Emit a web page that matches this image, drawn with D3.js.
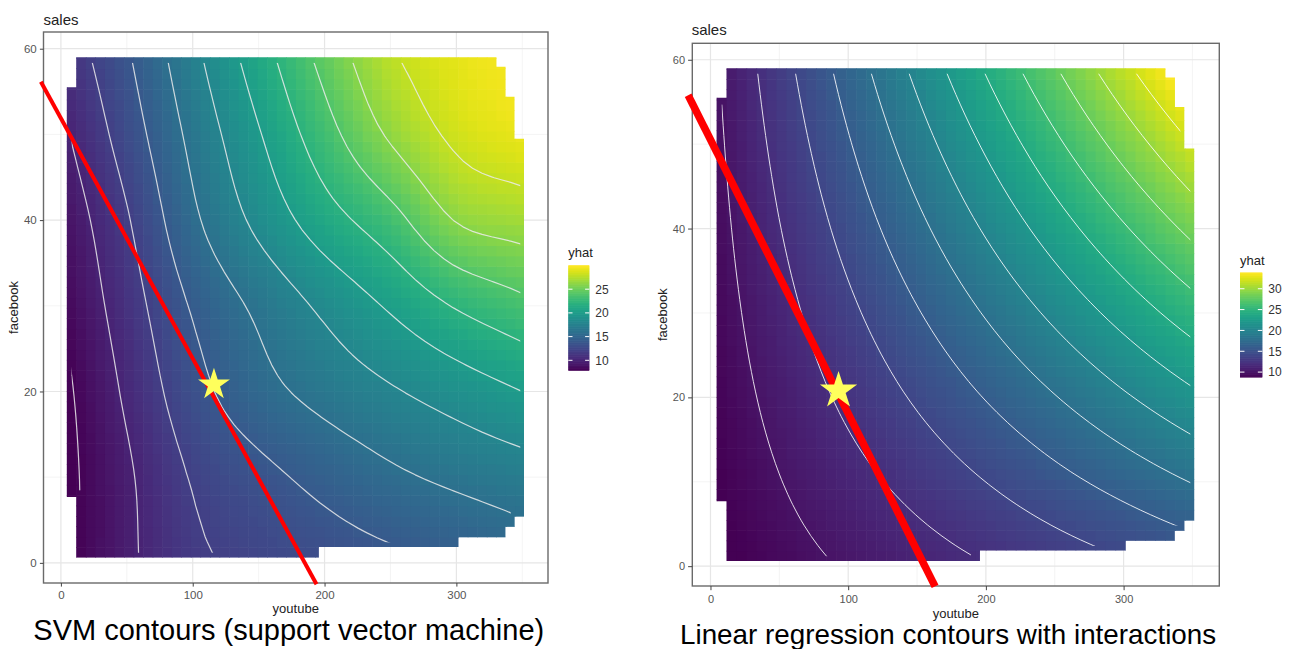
<!DOCTYPE html>
<html><head><meta charset="utf-8">
<script src="https://cdn.jsdelivr.net/npm/d3@7"></script>
<style>
body{margin:0;background:#fff;}
svg{display:block;}
text{font-family:"Liberation Sans",Arial,Helvetica,sans-serif;}
</style>
</head><body>
<svg id="chart" width="1293" height="649"></svg>
<script>
// ------------------------------------------------------------------
// DATA
// ------------------------------------------------------------------
const ytKnots = [0, 50, 100, 150, 200, 250, 300, 350];      // youtube
const fbKnots = [0, 10, 20, 30, 40, 50, 60];                 // facebook (rows)

// SVM predicted sales (rows = facebook 0..60, cols = youtube 0..350)
const svmYhat = [
  [ 7.40,  9.60, 11.60, 12.36, 12.95, 13.53, 14.10, 14.90],
  [ 7.34,  9.70, 12.15, 13.44, 14.59, 15.62, 16.41, 17.08],
  [ 7.45, 10.32, 13.24, 15.28, 16.67, 17.79, 18.89, 20.00],
  [ 8.00, 11.02, 14.20, 16.42, 18.42, 20.26, 22.16, 23.50],
  [ 8.60, 11.81, 15.60, 18.51, 21.10, 23.26, 26.10, 26.90],
  [ 9.56, 12.92, 16.54, 19.85, 23.20, 26.28, 28.40, 29.30],
  [10.70, 13.85, 17.55, 21.20, 24.80, 27.90, 29.20, 29.90]
];
// Linear regression (with interaction) predicted sales
const lmYhat = [
  [ 8.39,  9.28, 10.16, 11.05, 11.93, 12.82, 13.70, 14.59],
  [ 8.58,  9.94, 11.30, 12.65, 14.01, 15.37, 16.72, 18.08],
  [ 8.77, 10.60, 12.43, 14.26, 16.09, 17.91, 19.74, 21.57],
  [ 8.96, 11.26, 13.56, 15.86, 18.16, 20.46, 22.76, 25.06],
  [ 9.15, 11.93, 14.70, 17.47, 20.24, 23.01, 25.78, 28.55],
  [ 9.34, 12.59, 15.83, 19.07, 22.31, 25.56, 28.80, 32.04],
  [ 9.53, 13.25, 16.96, 20.68, 24.39, 28.10, 31.82, 35.53]
];

const svmRange = [7.85, 30.0];
const lmRange  = [8.75, 33.85];
const svmLevels = [8, 10, 12, 14, 16, 18, 20, 22, 24, 26, 28];
const lmLevels  = [10, 12, 14, 16, 18, 20, 22, 24, 26, 28, 30, 32];
const svmLegendBreaks = [10, 15, 20, 25];
const lmLegendBreaks  = [10, 15, 20, 25, 30];

const xTicks = [0, 100, 200, 300];
const xMinor = [50, 150, 250, 350];
const yTicks = [0, 20, 40, 60];
const yMinor = [10, 30, 50];

// outline of the prediction grid (youtube, facebook)
const regionOutline = [
  [11.7, 59.0], [330.3, 59.0], [330.3, 57.9], [337.3, 57.9], [337.3, 54.4],
  [344.1, 54.4], [344.1, 49.5], [351.3, 49.5], [351.3, 5.4], [344.2, 5.4],
  [344.2, 4.2], [337.2, 4.2], [337.2, 3.0], [301.5, 3.0], [301.5, 1.85],
  [195.7, 1.85], [195.7, 0.62], [11.7, 0.62], [11.7, 7.7], [4.5, 7.7],
  [4.5, 55.5], [11.7, 55.5]
];

// budget lines and optimum stars (youtube, facebook)
const svmBudgetLine = [[-15.2, 56.15], [193.9, -2.49]];
const lmBudgetLine  = [[-16.2, 55.8], [163.1, -2.39]];
const svmOptimum = [116.1, 20.8];
const lmOptimum  = [93.0, 20.8];

// ------------------------------------------------------------------
// RENDERING
// ------------------------------------------------------------------
const svg = d3.select("#chart");
const defs = svg.append("defs");
const FONT = '"Liberation Sans",Arial,Helvetica,sans-serif';
const xDomain = [-13.2, 369.5];
const yDomain = [-2.35, 61.95];

// display raster (50 x 50 tiles like the original prediction grid)
const NT = 50;
const tileYt0 = 0.84, tileYtStep = 7.242;
const tileFb0 = 0, tileFbStep = 1.2147;
const tileYt = d3.range(NT).map(k => tileYt0 + tileYtStep * k);
const tileFb = d3.range(NT).map(j => tileFb0 + tileFbStep * j);

function gridValue(grid, i, j) {
  const nx = grid[0].length, ny = grid.length;
  if (i < 0) return 2 * gridValue(grid, 0, j) - gridValue(grid, 1, j);
  if (i > nx - 1) return 2 * gridValue(grid, nx - 1, j) - gridValue(grid, nx - 2, j);
  if (j < 0) return 2 * gridValue(grid, i, 0) - gridValue(grid, i, 1);
  if (j > ny - 1) return 2 * gridValue(grid, i, ny - 1) - gridValue(grid, i, ny - 2);
  return grid[j][i];
}
function cr(p0, p1, p2, p3, t) {
  return 0.5 * (2 * p1 + (-p0 + p2) * t + (2 * p0 - 5 * p1 + 4 * p2 - p3) * t * t + (-p0 + 3 * p1 - 3 * p2 + p3) * t * t * t);
}
function sampleSurface(grid, yt, fb) {
  const gx = (yt - ytKnots[0]) / (ytKnots[1] - ytKnots[0]);
  const gy = (fb - fbKnots[0]) / (fbKnots[1] - fbKnots[0]);
  const nx = ytKnots.length, ny = fbKnots.length;
  const ix = Math.max(0, Math.min(nx - 2, Math.floor(gx)));
  const iy = Math.max(0, Math.min(ny - 2, Math.floor(gy)));
  const tx = gx - ix, ty = gy - iy;
  const rows = [];
  for (let dj = -1; dj <= 2; dj++) {
    const j = iy + dj;
    rows.push(cr(gridValue(grid, ix - 1, j), gridValue(grid, ix, j), gridValue(grid, ix + 1, j), gridValue(grid, ix + 2, j), tx));
  }
  return cr(rows[0], rows[1], rows[2], rows[3], ty);
}

function drawPanel(cfg) {
  const g = svg.append("g");
  const x = d3.scaleLinear().domain(xDomain).range([cfg.left, cfg.right]);
  const y = d3.scaleLinear().domain(yDomain).range([cfg.bottom, cfg.top]);
  const color = d3.scaleSequential(d3.interpolateViridis).domain(cfg.range).clamp(true);

  g.append("rect").attr("x", cfg.left).attr("y", cfg.top)
    .attr("width", cfg.right - cfg.left).attr("height", cfg.bottom - cfg.top).attr("fill", "#fff");
  const grid = g.append("g");
  grid.selectAll(".gxm").data(xMinor).join("line")
    .attr("x1", d => x(d)).attr("x2", d => x(d)).attr("y1", cfg.top).attr("y2", cfg.bottom)
    .attr("stroke", "#efefef").attr("stroke-width", 0.7);
  grid.selectAll(".gym").data(yMinor).join("line")
    .attr("y1", d => y(d)).attr("y2", d => y(d)).attr("x1", cfg.left).attr("x2", cfg.right)
    .attr("stroke", "#efefef").attr("stroke-width", 0.7);
  grid.selectAll(".gx").data(xTicks).join("line")
    .attr("x1", d => x(d)).attr("x2", d => x(d)).attr("y1", cfg.top).attr("y2", cfg.bottom)
    .attr("stroke", "#e6e6e6").attr("stroke-width", 1.2);
  grid.selectAll(".gy").data(yTicks).join("line")
    .attr("y1", d => y(d)).attr("y2", d => y(d)).attr("x1", cfg.left).attr("x2", cfg.right)
    .attr("stroke", "#e6e6e6").attr("stroke-width", 1.2);

  const maskId = cfg.id + "-mask";
  defs.append("clipPath").attr("id", maskId).append("path")
    .attr("d", d3.line()(regionOutline.map(p => [x(p[0]), y(p[1])])) + "Z");

  const vals = new Array(NT * NT);
  const cells = [];
  for (let j = 0; j < NT; j++) {
    for (let k = 0; k < NT; k++) {
      const v = sampleSurface(cfg.grid, tileYt[k], tileFb[j]);
      vals[j * NT + k] = v;
      cells.push({ yt: tileYt[k], fb: tileFb[j], v });
    }
  }
  const hw = tileYtStep / 2, hh = tileFbStep / 2;
  g.append("g").attr("clip-path", `url(#${maskId})`)
    .selectAll("rect").data(cells).join("rect")
    .attr("x", d => x(d.yt - hw))
    .attr("y", d => y(d.fb + hh))
    .attr("width", d => x(d.yt + hw) - x(d.yt - hw) + 0.6)
    .attr("height", d => y(d.fb - hh) - y(d.fb + hh) + 0.6)
    .attr("fill", d => color(d.v));

  const lineClipId = cfg.id + "-lclip";
  const lc = defs.append("clipPath").attr("id", lineClipId);
  const inside = (k, j) => d3.polygonContains(regionOutline, [tileYt[k], tileFb[j]]);
  for (let j = 0; j < NT - 1; j++) {
    let start = -1;
    for (let k = 0; k <= NT - 1; k++) {
      const ok = k < NT - 1 && inside(k, j) && inside(k + 1, j) && inside(k, j + 1) && inside(k + 1, j + 1);
      if (ok && start < 0) start = k;
      if (!ok && start >= 0) {
        const x0 = x(tileYt[start]), x1 = x(tileYt[k]);
        const y0 = y(tileFb[j + 1]), y1 = y(tileFb[j]);
        lc.append("rect").attr("x", x0).attr("y", y0 - 0.3).attr("width", x1 - x0).attr("height", y1 - y0 + 0.6);
        start = -1;
      }
    }
  }

  const contours = d3.contours().size([NT, NT]).thresholds(cfg.levels)(vals);
  const toData = p => [x(tileYt0 + (p[0] - 0.5) * tileYtStep), y(tileFb0 + (p[1] - 0.5) * tileFbStep)];
  const paths = [];
  contours.forEach(c => c.coordinates.forEach(poly => poly.forEach(ring => {
    paths.push(d3.line()(ring.map(toData)));
  })));
  g.append("g").attr("clip-path", `url(#${lineClipId})`)
    .selectAll("path").data(paths).join("path")
    .attr("d", d => d).attr("fill", "none")
    .attr("stroke", cfg.contourColor).attr("stroke-width", cfg.contourWidth)
    .attr("stroke-linejoin", "round");

  g.append("rect").attr("x", cfg.left).attr("y", cfg.top)
    .attr("width", cfg.right - cfg.left).attr("height", cfg.bottom - cfg.top)
    .attr("fill", "none").attr("stroke", "#6a6a6a").attr("stroke-width", 1.4);

  const ax = g.append("g").attr("transform", `translate(0,${cfg.bottom})`)
    .call(d3.axisBottom(x).tickValues(xTicks).tickSize(cfg.tickLen).tickPadding(cfg.xPad));
  const ay = g.append("g").attr("transform", `translate(${cfg.left},0)`)
    .call(d3.axisLeft(y).tickValues(yTicks).tickSize(cfg.tickLen).tickPadding(cfg.yPad));
  [ax, ay].forEach(a => {
    a.select(".domain").remove();
    a.selectAll("line").attr("stroke", "#444").attr("stroke-width", 1);
    a.selectAll("text").attr("fill", "#555").style("font-size", cfg.tickFont + "px").style("font-family", FONT);
  });

  g.append("text").attr("x", cfg.titleX).attr("y", cfg.titleY).text("sales")
    .style("font-size", "15px").attr("fill", "#222");
  g.append("text").attr("x", (cfg.left + cfg.right) / 2).attr("y", cfg.xLabY)
    .attr("text-anchor", "middle").text("youtube").style("font-size", "13px").attr("fill", "#222");
  g.append("text").attr("transform", `translate(${cfg.yLabX},${(cfg.top + cfg.bottom) / 2}) rotate(-90)`)
    .attr("text-anchor", "middle").text("facebook").style("font-size", "13px").attr("fill", "#222");

  const L = cfg.legend;
  const ly = d3.scaleLinear().domain(cfg.range).range([L.bottom, L.top]);
  const lg = g.append("g");
  const nb = 150;
  const steps = d3.range(nb).map(i => cfg.range[0] + (cfg.range[1] - cfg.range[0]) * i / nb);
  const dv = (cfg.range[1] - cfg.range[0]) / nb;
  lg.selectAll("rect").data(steps).join("rect")
    .attr("x", L.left).attr("width", L.width)
    .attr("y", d => ly(d + dv) - 0.3).attr("height", d => ly(d) - ly(d + dv) + 0.6)
    .attr("fill", d => color(d + dv / 2));
  const tw = L.width / 5;
  lg.selectAll(".tl").data(cfg.breaks).join("line")
    .attr("x1", L.left).attr("x2", L.left + tw).attr("y1", d => ly(d)).attr("y2", d => ly(d))
    .attr("stroke", "#fff").attr("stroke-width", 1);
  lg.selectAll(".tr").data(cfg.breaks).join("line")
    .attr("x1", L.left + L.width - tw).attr("x2", L.left + L.width).attr("y1", d => ly(d)).attr("y2", d => ly(d))
    .attr("stroke", "#fff").attr("stroke-width", 1);
  lg.selectAll(".lab").data(cfg.breaks).join("text")
    .attr("x", L.left + L.width + 6).attr("y", d => ly(d)).attr("dy", "0.36em")
    .text(d => d).style("font-size", "12px").attr("fill", "#333");
  lg.append("text").attr("x", L.left).attr("y", L.titleY).text("yhat")
    .style("font-size", "13px").attr("fill", "#222");

  g.append("line")
    .attr("x1", x(cfg.budget[0][0])).attr("y1", y(cfg.budget[0][1]))
    .attr("x2", x(cfg.budget[1][0])).attr("y2", y(cfg.budget[1][1]))
    .attr("stroke", "#ff0000").attr("stroke-width", cfg.redWidth);
  g.append("path")
    .attr("transform", `translate(${x(cfg.optimum[0])},${y(cfg.optimum[1])})`)
    .attr("d", d3.symbol(d3.symbolStar).size(cfg.starSize)())
    .attr("fill", "#ffff5c");

  g.append("text").attr("x", cfg.capX).attr("y", cfg.capY).text(cfg.caption)
    .style("font-size", cfg.capFont + "px").attr("fill", "#000");
}

drawPanel({
  id: "svm", grid: svmYhat, range: svmRange, levels: svmLevels, breaks: svmLegendBreaks,
  left: 43.5, right: 548, top: 32, bottom: 583,
  contourColor: "rgba(235,235,235,0.85)", contourWidth: 1.2,
  tickLen: 3.6, xPad: 4.5, yPad: 3.2, tickFont: 11.5,
  titleX: 43.5, titleY: 25, xLabY: 613, yLabX: 17.5,
  legend: { left: 568.3, width: 21, top: 265.5, bottom: 370.5, titleY: 257.3 },
  budget: svmBudgetLine, optimum: svmOptimum, redWidth: 4, starSize: 315,
  caption: "SVM contours (support vector machine)", capX: 33.3, capY: 639.5, capFont: 29
});

drawPanel({
  id: "lm", grid: lmYhat, range: lmRange, levels: lmLevels, breaks: lmLegendBreaks,
  left: 692.3, right: 1219.3, top: 43.3, bottom: 586,
  contourColor: "rgba(255,255,255,0.85)", contourWidth: 1.0,
  tickLen: 4.2, xPad: 5, yPad: 3, tickFont: 11,
  titleX: 691.7, titleY: 35, xLabY: 617.5, yLabX: 666.5,
  legend: { left: 1240, width: 22.3, top: 272.7, bottom: 377.3, titleY: 265 },
  budget: lmBudgetLine, optimum: lmOptimum, redWidth: 7.5, starSize: 430,
  caption: "Linear regression contours with interactions", capX: 680, capY: 643.5, capFont: 27.8
});
</script>
</body></html>
